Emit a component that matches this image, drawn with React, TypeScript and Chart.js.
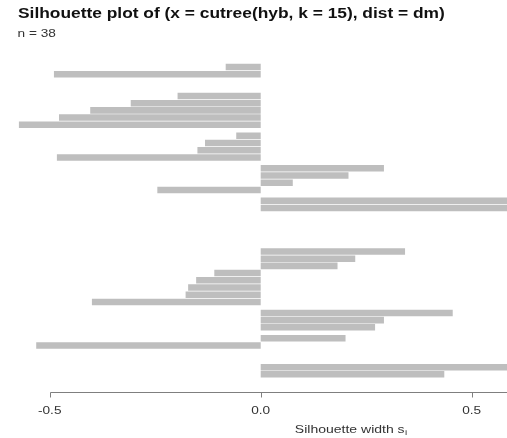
import { useEffect, useRef } from "react";
import { Chart, registerables } from "chart.js";

Chart.register(...registerables);

// Cluster sizes, top to bottom, in plotting order
const clusterSizes: number[] = [1, 2, 1, 5, 4, 4, 2, 1, 1, 1, 8, 3, 2, 1, 2];

// Silhouette width of every observation, grouped by cluster and sorted within each
const silWidths: number[] = [
  0,
  -0.083, -0.49,
  0,
  -0.197, -0.308, -0.404, -0.478, -0.573,
  -0.058, -0.132, -0.15, -0.483,
  0.292, 0.208, 0.076, -0.245,
  0.64, 0.62,
  0,
  0,
  0,
  0.342, 0.224, 0.182, -0.11, -0.153, -0.172, -0.178, -0.4,
  0.455, 0.292, 0.271,
  0.201, -0.532,
  0,
  0.63, 0.435,
];

const xTicks: number[] = [-0.5, 0, 0.5];

const titleText = "Silhouette plot of (x = cutree(hyb, k = 15), dist = dm)";
const subText = `n = ${silWidths.length}`;

// Space between clusters, in bar widths
const clusterGap = 0.5;
// Visible window on the width axis
const viewMin = -0.6178;
const viewMax = 0.5836;
// Text is drawn wide: horizontal stretch factor
const STRETCH = 1.24;

function barPositions(): number[] {
  const out: number[] = [];
  let pos = 0;
  clusterSizes.forEach((n, ci) => {
    if (ci > 0) pos += clusterGap;
    for (let k = 0; k < n; k++) {
      out.push(pos + 0.5);
      pos += 1;
    }
  });
  return out;
}

const FONT = '"Liberation Sans", Arial, Helvetica, sans-serif';

// draw text stretched horizontally; align: 0 = left, 0.5 = centre
function wideText(ctx: CanvasRenderingContext2D, text: string, x: number, y: number, font: string, align = 0) {
  ctx.save();
  ctx.font = font;
  ctx.textAlign = "left";
  ctx.textBaseline = "alphabetic";
  const w = ctx.measureText(text).width * STRETCH;
  ctx.translate(x - w * align, y);
  ctx.scale(STRETCH, 1);
  ctx.fillText(text, 0, 0);
  ctx.restore();
  return w;
}

const decorPlugin = {
  id: "silDecor",
  afterDraw(chart: any) {
    const { ctx, chartArea, scales } = chart;
    const x = scales.x;
    const axisY = Math.round(chartArea.bottom) + 1.5;
    ctx.save();

    // width axis: line from the first tick to the right, with tick marks
    ctx.strokeStyle = "#7f7f7f";
    ctx.lineWidth = 1;
    ctx.beginPath();
    ctx.moveTo(Math.round(x.getPixelForValue(xTicks[0])) + 0.5, axisY);
    ctx.lineTo(chartArea.right, axisY);
    for (const t of xTicks) {
      const px = Math.round(x.getPixelForValue(t)) + 0.5;
      ctx.moveTo(px, axisY);
      ctx.lineTo(px, axisY + 5);
    }
    ctx.stroke();

    ctx.fillStyle = "#333333";
    const tickFont = `11px ${FONT}`;
    for (const t of xTicks) {
      wideText(ctx, t.toFixed(1), x.getPixelForValue(t), axisY + 21, tickFont, 0.5);
    }

    // axis title, centred on the full width range
    const lo = Math.min(0, ...silWidths);
    const hi = 1;
    const centre = x.getPixelForValue((lo + hi) / 2);
    const main = "Silhouette width s";
    const labFont = `11.3px ${FONT}`;
    const subFont = `8px ${FONT}`;
    ctx.font = labFont;
    const wMain = ctx.measureText(main).width * STRETCH;
    ctx.font = subFont;
    const wSub = ctx.measureText("i").width * STRETCH;
    const start = centre - (wMain + wSub) / 2;
    wideText(ctx, main, start, axisY + 40, labFont, 0);
    wideText(ctx, "i", start + wMain + 0.5, axisY + 42.5, subFont, 0);

    // main title and count
    ctx.fillStyle = "#111111";
    wideText(ctx, titleText, 18, 17.5, `bold 14px ${FONT}`, 0);
    ctx.fillStyle = "#333333";
    wideText(ctx, subText, 17.5, 36.5, `11px ${FONT}`, 0);

    ctx.restore();
  },
};

export default function App() {
  const canvasRef = useRef<HTMLCanvasElement | null>(null);

  useEffect(() => {
    if (!canvasRef.current) return;
    const pos = barPositions();
    const total = pos.length + clusterGap * (clusterSizes.length - 1);
    const ext = total * 0.04;
    const points = silWidths.map((w, i) => ({ x: w, y: pos[i] }));

    const chart = new Chart(canvasRef.current, {
      type: "bar",
      data: {
        datasets: [
          {
            data: points as any,
            backgroundColor: "#bebebe",
            borderWidth: 0,
            barPercentage: 0.9,
            categoryPercentage: 1,
          },
        ],
      },
      options: {
        indexAxis: "y",
        responsive: false,
        animation: false,
        layout: { padding: { top: 39.5, bottom: 47, left: 0, right: 0 } },
        plugins: {
          legend: { display: false },
          tooltip: { enabled: false },
          title: { display: false },
        },
        scales: {
          x: {
            type: "linear",
            min: viewMin,
            max: viewMax,
            display: false,
          },
          y: {
            type: "linear",
            min: -ext,
            max: total + ext,
            reverse: true,
            offset: false,
            display: false,
          },
        },
      },
      plugins: [decorPlugin],
    });
    return () => chart.destroy();
  }, []);

  return (
    <div style={{ position: "absolute", left: 0, top: 0, width: 507, height: 438, background: "#ffffff" }}>
      <canvas ref={canvasRef} width={507} height={438} style={{ display: "block" }} />
    </div>
  );
}
